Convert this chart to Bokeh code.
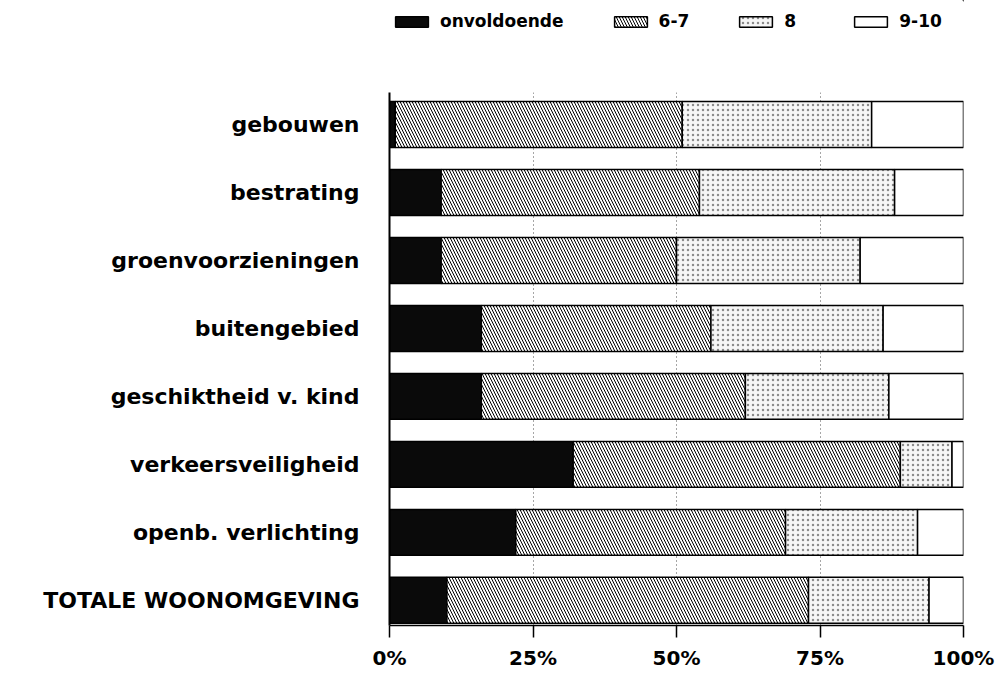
from bokeh.plotting import figure
from bokeh.layouts import column
from bokeh.models import (Range1d, FixedTicker, PrintfTickFormatter, Legend, LegendItem)
from bokeh.embed import file_html
from bokeh.resources import INLINE

categories = ["gebouwen", "bestrating", "groenvoorzieningen", "buitengebied",
              "geschiktheid v. kind", "verkeersveiligheid", "openb. verlichting",
              "TOTALE WOONOMGEVING"]
series = ["onvoldoende", "6-7", "8", "9-10"]
onvoldoende = [1, 9, 9, 16, 16, 32, 22, 10]
zes_zeven = [50, 45, 41, 40, 46, 57, 47, 63]
acht = [33, 34, 32, 30, 25, 9, 23, 21]
negen_tien = [16, 12, 18, 14, 13, 2, 8, 6]
x_ticks = [0, 25, 50, 75, 100]

values = {"onvoldoende": onvoldoende, "6-7": zes_zeven, "8": acht, "9-10": negen_tien}
n = len(categories)
ypos = [n - 1 - i for i in range(n)]

FONT = "DejaVu Sans"

styles = {
    "onvoldoende": dict(fill_color="#0a0a0a", line_color="black", line_width=1.5),
    "6-7": dict(fill_color="white", line_color="black", line_width=1.5,
                hatch_pattern="\\", hatch_color="black", hatch_scale=6, hatch_weight=1),
    "8": dict(fill_color="#f6f6f6", line_color="black", line_width=1.5,
              hatch_pattern=".", hatch_color="#444444", hatch_scale=5, hatch_weight=0.8,
              hatch_alpha=0.6),
    "9-10": dict(fill_color="white", line_color="black", line_width=1.5),
}

# ---------- main chart ----------
p = figure(width=995, height=581, output_backend="svg", toolbar_location=None,
           x_range=Range1d(0, 100), y_range=Range1d(-0.37, n - 1 + 0.47),
           min_border_left=389, min_border_right=32, min_border_top=0,
           min_border_bottom=48)
p.outline_line_color = None

left = [0] * n
for s in series:
    right = [l + v for l, v in zip(left, values[s])]
    p.hbar(y=ypos, left=left, right=right, height=0.676, **styles[s])
    left = right

p.xaxis.ticker = FixedTicker(ticks=x_ticks)
p.xaxis.formatter = PrintfTickFormatter(format="%d%%")
p.xaxis.major_tick_out = 12
p.xaxis.major_tick_in = 0
p.xaxis.minor_tick_line_color = None
p.xaxis.axis_line_width = 1.5
p.xaxis.major_tick_line_width = 1.5
p.xaxis.major_label_standoff = 8
p.xaxis.major_label_text_font = FONT
p.xaxis.major_label_text_font_style = "bold"
p.xaxis.major_label_text_font_size = "20px"
p.xaxis.major_label_text_color = "black"

p.yaxis.ticker = FixedTicker(ticks=ypos)
p.yaxis.major_label_overrides = {y: c for y, c in zip(ypos, categories)}
p.yaxis.major_tick_out = 0
p.yaxis.major_tick_in = 0
p.yaxis.minor_tick_line_color = None
p.yaxis.axis_line_width = 2
p.yaxis.major_label_standoff = 30
p.yaxis.major_label_text_font = FONT
p.yaxis.major_label_text_font_style = "bold"
p.yaxis.major_label_text_font_size = "22px"
p.yaxis.major_label_text_color = "black"

p.ygrid.grid_line_color = None
p.xgrid.grid_line_color = "black"
p.xgrid.grid_line_dash = "1 3"
p.xgrid.grid_line_alpha = 0.7
p.xgrid.grid_line_width = 1

# ---------- legend strip ----------
lg = figure(width=995, height=92, output_backend="svg", toolbar_location=None,
            x_range=Range1d(0, 1), y_range=Range1d(0, 1),
            x_axis_location=None, y_axis_location=None,
            min_border_left=389, min_border_right=32, min_border_top=0, min_border_bottom=0)
lg.outline_line_color = None
lg.grid.grid_line_color = None
leg_renderers = []
for s in series:
    r = lg.hbar(y=[5], left=[5], right=[6], height=0.5, **styles[s])
    leg_renderers.append(r)

legend = Legend(items=[LegendItem(label=s, renderers=[r]) for s, r in zip(series, leg_renderers)],
                orientation="horizontal", location=(2, 61),
                glyph_width=41, glyph_height=13, label_standoff=8, spacing=46,
                padding=0, margin=0, border_line_color=None, background_fill_alpha=0,
                label_text_font=FONT, label_text_font_style="bold",
                label_text_font_size="17px", label_text_color="black", label_height=20)
lg.add_layout(legend)

layout = column(lg, p, spacing=0)
open("out.html", "w").write(file_html(layout, INLINE))
